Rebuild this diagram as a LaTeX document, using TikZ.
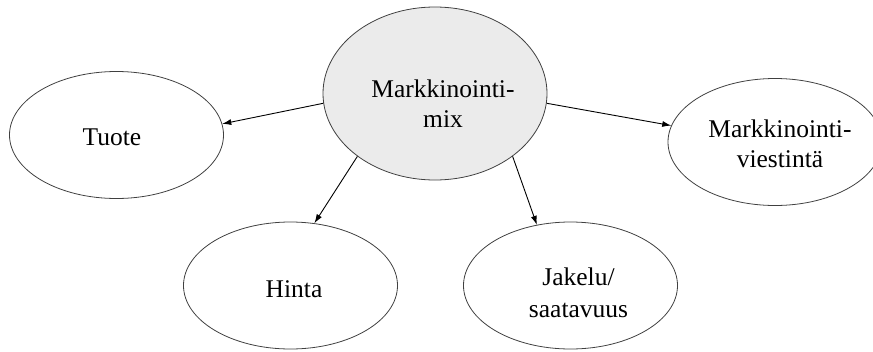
\documentclass[tikz,border=0pt]{standalone}
\usepackage{fontspec}
\setmainfont{Liberation Serif}
\usetikzlibrary{shapes.geometric,arrows.meta}
\begin{document}
\begin{tikzpicture}[x=1pt,y=-1pt,
  bubble/.style={ellipse, draw=black!75, line width=0.8pt, inner sep=0pt,
    minimum width=214pt, minimum height=127pt},
  hub/.style={bubble, fill=black!8, minimum width=224pt, minimum height=173pt},
  lbl/.style={font=\fontsize{25.5}{30}\selectfont, align=center, anchor=base, inner sep=0pt},
  conn/.style={-{Latex[length=9pt,width=6pt]}, line width=0.9pt, black}]
\useasboundingbox (0,0) rectangle (873,351);
\clip (0,0) rectangle (873,351);
\node[hub] (c) at (435,93.5) {};
\node[bubble] (t) at (116.5,135) {};
\node[bubble] (h) at (290.5,285.5) {};
\node[bubble] (j) at (570.5,285.5) {};
\node[bubble] (v) at (775,142) {};
\node[lbl] (ct) at (443,127) {Markkinointi-\\mix};
\node[lbl] (tt) at (112,145.5) {Tuote};
\node[lbl] (ht) at (294,297) {Hinta};
\node[lbl, font=\fontsize{25.5}{32}\selectfont] (jt) at (578.5,317) {Jakelu/\\saatavuus};
\node[lbl] (vt) at (780,167) {Markkinointi-\\viestintä};
\draw[conn] (c.185) -- (t.6);
\draw[conn] (c.219) -- (h.69);
\draw[conn] (c.321) -- (j.119);
\draw[conn] (c.355) -- (v.171);
\end{tikzpicture}
\end{document}
